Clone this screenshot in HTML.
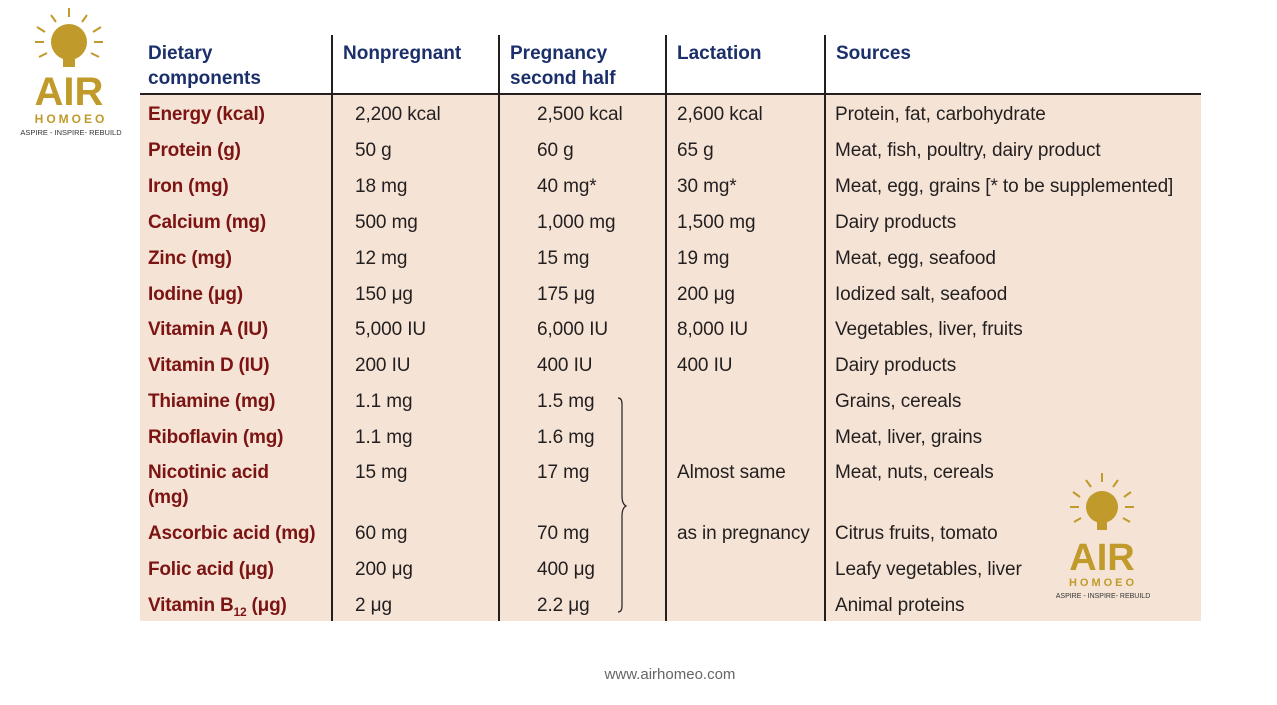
<!DOCTYPE html>
<html><head><meta charset="utf-8"><style>
body{margin:0;width:1277px;height:705px;background:#fff;position:relative;overflow:hidden;font-family:"Liberation Sans",sans-serif}
.t{position:absolute;font-size:19px;line-height:22px;white-space:nowrap;color:#231f20;letter-spacing:-0.1px;margin-top:2px}
.h{color:#1b2f6b;font-weight:bold;font-size:19px;letter-spacing:0px}
.b{color:#7d1414;font-weight:bold;letter-spacing:-0.2px}
.v{position:absolute;width:2px;background:#231f20;top:35px;height:586px}
</style></head><body>
<div style="position:absolute;left:140px;top:95px;width:1061px;height:526px;background:#f5e4d5"></div>
<div style="position:absolute;left:140px;top:93px;width:1061px;height:2px;background:#231f20"></div>
<div class="v" style="left:331px"></div>
<div class="v" style="left:498px"></div>
<div class="v" style="left:665px"></div>
<div class="v" style="left:824px"></div>

<div class="t h" style="left:148px;top:41px">Dietary</div>
<div class="t h" style="left:148px;top:66px">components</div>
<div class="t h" style="left:343px;top:41px">Nonpregnant</div>
<div class="t h" style="left:510px;top:41px">Pregnancy</div>
<div class="t h" style="left:510px;top:66px">second half</div>
<div class="t h" style="left:677px;top:41px">Lactation</div>
<div class="t h" style="left:836px;top:41px">Sources</div>

<div class="t b" style="left:148px;top:102px">Energy (kcal)</div><div class="t" style="left:355px;top:102px">2,200 kcal</div><div class="t" style="left:537px;top:102px">2,500 kcal</div><div class="t" style="left:677px;top:102px">2,600 kcal</div><div class="t" style="left:835px;top:102px">Protein, fat, carbohydrate</div>
<div class="t b" style="left:148px;top:138px">Protein (g)</div><div class="t" style="left:355px;top:138px">50 g</div><div class="t" style="left:537px;top:138px">60 g</div><div class="t" style="left:677px;top:138px">65 g</div><div class="t" style="left:835px;top:138px">Meat, fish, poultry, dairy product</div>
<div class="t b" style="left:148px;top:174px">Iron (mg)</div><div class="t" style="left:355px;top:174px">18 mg</div><div class="t" style="left:537px;top:174px">40 mg*</div><div class="t" style="left:677px;top:174px">30 mg*</div><div class="t" style="left:835px;top:174px">Meat, egg, grains [* to be supplemented]</div>
<div class="t b" style="left:148px;top:210px">Calcium (mg)</div><div class="t" style="left:355px;top:210px">500 mg</div><div class="t" style="left:537px;top:210px">1,000 mg</div><div class="t" style="left:677px;top:210px">1,500 mg</div><div class="t" style="left:835px;top:210px">Dairy products</div>
<div class="t b" style="left:148px;top:246px">Zinc (mg)</div><div class="t" style="left:355px;top:246px">12 mg</div><div class="t" style="left:537px;top:246px">15 mg</div><div class="t" style="left:677px;top:246px">19 mg</div><div class="t" style="left:835px;top:246px">Meat, egg, seafood</div>
<div class="t b" style="left:148px;top:282px">Iodine (μg)</div><div class="t" style="left:355px;top:282px">150 μg</div><div class="t" style="left:537px;top:282px">175 μg</div><div class="t" style="left:677px;top:282px">200 μg</div><div class="t" style="left:835px;top:282px">Iodized salt, seafood</div>
<div class="t b" style="left:148px;top:317px">Vitamin A (IU)</div><div class="t" style="left:355px;top:317px">5,000 IU</div><div class="t" style="left:537px;top:317px">6,000 IU</div><div class="t" style="left:677px;top:317px">8,000 IU</div><div class="t" style="left:835px;top:317px">Vegetables, liver, fruits</div>
<div class="t b" style="left:148px;top:353px">Vitamin D (IU)</div><div class="t" style="left:355px;top:353px">200 IU</div><div class="t" style="left:537px;top:353px">400 IU</div><div class="t" style="left:677px;top:353px">400 IU</div><div class="t" style="left:835px;top:353px">Dairy products</div>
<div class="t b" style="left:148px;top:389px">Thiamine (mg)</div><div class="t" style="left:355px;top:389px">1.1 mg</div><div class="t" style="left:537px;top:389px">1.5 mg</div><div class="t" style="left:835px;top:389px">Grains, cereals</div>
<div class="t b" style="left:148px;top:425px">Riboflavin (mg)</div><div class="t" style="left:355px;top:425px">1.1 mg</div><div class="t" style="left:537px;top:425px">1.6 mg</div><div class="t" style="left:835px;top:425px">Meat, liver, grains</div>
<div class="t b" style="left:148px;top:460px">Nicotinic acid</div><div class="t b" style="left:148px;top:485px">(mg)</div><div class="t" style="left:355px;top:460px">15 mg</div><div class="t" style="left:537px;top:460px">17 mg</div><div class="t" style="left:677px;top:460px">Almost same</div><div class="t" style="left:835px;top:460px">Meat, nuts, cereals</div>
<div class="t b" style="left:148px;top:521px">Ascorbic acid (mg)</div><div class="t" style="left:355px;top:521px">60 mg</div><div class="t" style="left:537px;top:521px">70 mg</div><div class="t" style="left:677px;top:521px">as in pregnancy</div><div class="t" style="left:835px;top:521px">Citrus fruits, tomato</div>
<div class="t b" style="left:148px;top:557px">Folic acid (μg)</div><div class="t" style="left:355px;top:557px">200 μg</div><div class="t" style="left:537px;top:557px">400 μg</div><div class="t" style="left:835px;top:557px">Leafy vegetables, liver</div>
<div class="t b" style="left:148px;top:593px">Vitamin B<sub style="font-size:12px">12</sub> (μg)</div><div class="t" style="left:355px;top:593px">2 μg</div><div class="t" style="left:537px;top:593px">2.2 μg</div><div class="t" style="left:835px;top:593px">Animal proteins</div>

<svg style="position:absolute;left:612px;top:396px" width="20" height="218"><path d="M6 2 Q10 2 10 8 L10 100 Q10 108 14 110 Q10 112 10 120 L10 210 Q10 216 6 216" fill="none" stroke="#231f20" stroke-width="1.2"/></svg>

<svg style="position:absolute;left:15px;top:5px" width="115" height="135">
<g stroke="#c09a2a" stroke-width="2"><line x1="54" y1="3" x2="54" y2="12"/><line x1="36" y1="10" x2="41" y2="17"/><line x1="72" y1="10" x2="67" y2="17"/><line x1="22" y1="22" x2="30" y2="27"/><line x1="86" y1="22" x2="78" y2="27"/><line x1="20" y1="37" x2="29" y2="37"/><line x1="88" y1="37" x2="79" y2="37"/><line x1="24" y1="52" x2="32" y2="48"/><line x1="84" y1="52" x2="76" y2="48"/></g>
<circle cx="54" cy="37" r="18" fill="#c09a2a"/><rect x="48" y="52" width="12" height="10" fill="#c09a2a"/>
<text x="54" y="100" text-anchor="middle" font-family="Liberation Sans" font-weight="bold" font-size="40" fill="#c09a2a">AIR</text>
<text x="56" y="118" text-anchor="middle" font-family="Liberation Sans" font-weight="bold" font-size="12" letter-spacing="3" fill="#c09a2a">HOMOEO</text>
<text x="56" y="130" text-anchor="middle" font-family="Liberation Sans" font-size="7.5" fill="#333">ASPIRE - INSPIRE- REBUILD</text>
</svg>
<svg style="position:absolute;left:1048px;top:470px" width="115" height="135">
<g stroke="#c09a2a" stroke-width="2"><line x1="54" y1="3" x2="54" y2="12"/><line x1="38" y1="10" x2="43" y2="17"/><line x1="70" y1="10" x2="65" y2="17"/><line x1="25" y1="22" x2="32" y2="27"/><line x1="83" y1="22" x2="76" y2="27"/><line x1="22" y1="37" x2="31" y2="37"/><line x1="86" y1="37" x2="77" y2="37"/><line x1="26" y1="52" x2="33" y2="48"/><line x1="82" y1="52" x2="75" y2="48"/></g>
<circle cx="54" cy="37" r="16" fill="#c09a2a"/><rect x="49" y="50" width="10" height="10" fill="#c09a2a"/>
<text x="54" y="100" text-anchor="middle" font-family="Liberation Sans" font-weight="bold" font-size="38" fill="#c09a2a">AIR</text>
<text x="55" y="116" text-anchor="middle" font-family="Liberation Sans" font-weight="bold" font-size="11" letter-spacing="3" fill="#c09a2a">HOMOEO</text>
<text x="55" y="128" text-anchor="middle" font-family="Liberation Sans" font-size="7" fill="#333">ASPIRE - INSPIRE- REBUILD</text>
</svg>
<div style="position:absolute;left:560px;width:220px;text-align:center;top:666px;font-size:15px;color:#666">www.airhomeo.com</div>
</body></html>
